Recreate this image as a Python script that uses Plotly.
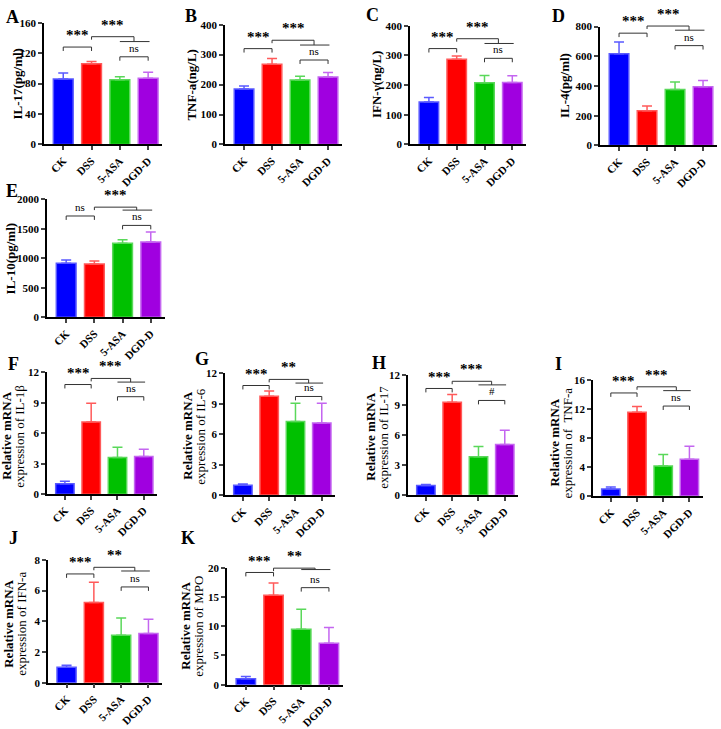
import plotly.graph_objects as go

W, H = 721, 729
groups = ["CK", "DSS", "5-ASA", "DGD-D"]

# ---- data (mean, upper error) ----
il17_mean = [86, 106, 85, 87]
il17_err = [8, 3, 4, 8]
tnf_mean = [185, 268, 215, 225]
tnf_err = [10, 19, 13, 15]
ifng_mean = [143, 287, 208, 209]
ifng_err = [15, 11, 24, 22]
il4_mean = [617, 234, 376, 396]
il4_err = [79, 31, 51, 42]
il10_mean = [917, 905, 1258, 1280]
il10_err = [55, 50, 60, 170]
m_il1b_mean = [1.02, 7.1, 3.6, 3.7]
m_il1b_err = [0.26, 1.85, 1.02, 0.73]
m_il6_mean = [0.98, 9.75, 7.25, 7.1]
m_il6_err = [0.12, 0.5, 1.8, 1.95]
m_il17_mean = [0.97, 9.3, 3.85, 5.08]
m_il17_err = [0.1, 0.77, 1.02, 1.42]
m_tnf_mean = [0.97, 11.57, 4.15, 5.08]
m_tnf_err = [0.28, 0.8, 1.6, 1.8]
m_ifna_mean = [1.0, 5.23, 3.1, 3.21]
m_ifna_err = [0.13, 1.32, 1.11, 0.92]
m_mpo_mean = [1.0, 15.3, 9.5, 7.1]
m_mpo_err = [0.4, 2.1, 3.4, 2.7]

bar_colors = ["#0000FF", "#FF0000", "#00C000", "#A000E0"]
edge_colors = ["#5A5AFF", "#FF5A5A", "#5AD85A", "#C466F0"]

panels = [
    dict(L="A", title=["IL-17(pg/ml)"], mean=il17_mean, err=il17_err, ymax=160, dtick=40,
         ax=44, s=28.3, zero=141, top=17, toff=26, tdy=0, let=(12, 11), sig=("***", "***", "ns"), lv=(0.80, 0.885, 0.845, 0.72)),
    dict(L="B", title=["TNF-a(ng/L)"], mean=tnf_mean, err=tnf_err, ymax=400, dtick=100,
         ax=225, s=28.0, zero=141, top=19, toff=33, tdy=0, let=(191, 10), sig=("***", "***", "ns"), lv=(0.80, 0.87, 0.83, 0.705)),
    dict(L="C", title=["IFN-γ(ng/L)"], mean=ifng_mean, err=ifng_err, ymax=400, dtick=100,
         ax=410, s=27.8, zero=141, top=20, toff=34, tdy=0, let=(372, 9), sig=("***", "***", "ns"), lv=(0.807, 0.89, 0.85, 0.725)),
    dict(L="D", title=["IL-4(pg/ml)"], mean=il4_mean, err=il4_err, ymax=800, dtick=200,
         ax=600, s=28.0, zero=142, top=21, toff=36, tdy=0, let=(558, 10), sig=("***", "***", "ns"), lv=(0.945, 1.005, 0.97, 0.84)),
    dict(L="E", title=["IL-10(pg/ml)"], mean=il10_mean, err=il10_err, ymax=2000, dtick=500,
         ax=47, s=28.2, zero=317, top=197, toff=37, tdy=0, let=(12, 188), sig=("ns", "***", "ns"), lv=(0.86, 0.935, 0.91, 0.78)),
    dict(L="F", title=["Relative mRNA", "expression of IL-1β"], mean=m_il1b_mean, err=m_il1b_err, ymax=12, dtick=3,
         ax=47, s=26.3, zero=497, top=373, toff=34, tdy=3, let=(13, 365), sig=("***", "***", "ns"), lv=(0.90, 0.95, 0.92, 0.80)),
    dict(L="G", title=["Relative mRNA", "expression of IL-6"], mean=m_il6_mean, err=m_il6_err, ymax=12, dtick=3,
         ax=225, s=26.3, zero=498, top=374, toff=31, tdy=2, let=(202, 359), sig=("***", "**", "ns"), lv=(0.90, 0.95, 0.92, 0.81)),
    dict(L="H", title=["Relative mRNA", "expression of IL-17"], mean=m_il17_mean, err=m_il17_err, ymax=12, dtick=3,
         ax=408, s=26.3, zero=498, top=376, toff=31, tdy=2, let=(379, 363), sig=("***", "***", "#"), lv=(0.89, 0.95, 0.92, 0.79)),
    dict(L="I", title=["Relative mRNA", "expression of  TNF-a"], mean=m_tnf_mean, err=m_tnf_err, ymax=16, dtick=4,
         ax=593, s=26.2, zero=499, top=381, toff=32, tdy=5, let=(558, 364), sig=("***", "***", "ns"), lv=(0.89, 0.943, 0.91, 0.777)),
    dict(L="J", title=["Relative mRNA", "expression of IFN-a"], mean=m_ifna_mean, err=m_ifna_err, ymax=8, dtick=2,
         ax=48, s=27.3, zero=689, top=564, toff=33, tdy=3, let=(13, 542), sig=("***", "**", "ns"), lv=(0.886, 0.94, 0.91, 0.78)),
    dict(L="K", title=["Relative mRNA", "expression of MPO"], mean=m_mpo_mean, err=m_mpo_err, ymax=20, dtick=5,
         ax=227, s=27.7, zero=691, top=572, toff=35, tdy=0, let=(188, 542), sig=("***", "**", "ns"), lv=(0.96, 0.997, 0.985, 0.83)),
]

XLO, XHI = -0.68, 3.5
FONT = "Liberation Serif, Times New Roman, serif"

fig = go.Figure()
shapes = []
annotations = []
layout = {}


def pxx(p, c):
    return (p["ax"] + (c - XLO) * p["s"]) / W


def pyy(p, f, dpx=0.0):
    return 1 - (p["zero"] - f * (p["zero"] - p["top"]) - dpx) / H


def line(x0, y0, x1, y1, color="#333333"):
    shapes.append(dict(type="line", xref="paper", yref="paper", x0=x0, y0=y0, x1=x1, y1=y1,
                       line=dict(color=color, width=1)))


TK = 4  # bracket tick length in px

for i, p in enumerate(panels):
    n = "" if i == 0 else str(i + 1)
    xa, ya = "x" + n, "y" + n
    fig.add_trace(go.Bar(
        x=groups, y=p["mean"], xaxis=xa, yaxis=ya, width=0.7,
        marker=dict(color=bar_colors, line=dict(color=edge_colors, width=1.5)),
        showlegend=False,
    ))
    for j in range(4):
        fig.add_trace(go.Scatter(
            x=[groups[j]], y=[p["mean"][j]], xaxis=xa, yaxis=ya, mode="markers",
            marker=dict(size=0.1, color="rgba(0,0,0,0)"),
            error_y=dict(type="data", symmetric=False, array=[p["err"][j]], arrayminus=[0],
                         color=edge_colors[j], thickness=1.5, width=5),
            showlegend=False, hoverinfo="skip",
        ))
    x0 = p["ax"] / W
    x1 = (p["ax"] + (XHI - XLO) * p["s"]) / W
    layout["xaxis" + n] = dict(
        domain=[x0, x1], anchor=ya, range=[XLO, XHI], type="category",
        showline=True, linecolor="black", linewidth=1.5, ticks="outside", ticklen=4, tickwidth=1.5,
        tickangle=-45, tickfont=dict(family=FONT, size=11, color="black", weight="bold"),
        showgrid=False, zeroline=False, fixedrange=True,
    )
    layout["yaxis" + n] = dict(
        domain=[1 - p["zero"] / H, 1 - p["top"] / H], anchor=xa, range=[0, p["ymax"]],
        dtick=p["dtick"], tick0=0,
        showline=True, linecolor="black", linewidth=1.5, ticks="outside", ticklen=4, tickwidth=1.5,
        tickfont=dict(family=FONT, size=11, color="black", weight="bold"),
        showgrid=False, zeroline=False, fixedrange=True,
    )
    # y title (one or two lines)
    nl = len(p["title"])
    for k, t in enumerate(p["title"]):
        dx = 0 if nl == 1 else (-6.5 if k == 0 else 6.5)
        annotations.append(dict(
            xref="paper", yref="paper", x=(p["ax"] - p["toff"] + dx) / W, y=pyy(p, 0.5, -p["tdy"]),
            text=("<b>" + t + "</b>") if k == 0 else t, textangle=-90, showarrow=False,
            xanchor="center", yanchor="middle",
            font=dict(family=FONT, size=13, color="black"),
        ))
    # panel letter
    annotations.append(dict(
        xref="paper", yref="paper", x=p["let"][0] / W, y=1 - p["let"][1] / H,
        text="<b>" + p["L"] + "</b>", showarrow=False, xanchor="center", yanchor="middle",
        font=dict(family=FONT, size=18, color="black"),
    ))
    b1, b2, bg, b3 = p["lv"]
    # bracket 1: CK vs DSS
    line(pxx(p, 0), pyy(p, b1), pxx(p, 1), pyy(p, b1))
    line(pxx(p, 0), pyy(p, b1), pxx(p, 0), pyy(p, b1, -TK))
    line(pxx(p, 1), pyy(p, b1), pxx(p, 1), pyy(p, b1, -TK))
    # bracket 2: DSS vs treatment group
    line(pxx(p, 1), pyy(p, b2), pxx(p, 2.5), pyy(p, b2))
    line(pxx(p, 1), pyy(p, b2), pxx(p, 1), pyy(p, b2, -TK + 1))
    line(pxx(p, 2.5), pyy(p, b2), pxx(p, 2.5), pyy(p, bg))
    line(pxx(p, 2.0), pyy(p, bg), pxx(p, 3.05), pyy(p, bg))
    # bracket 3: 5-ASA vs DGD-D
    line(pxx(p, 2), pyy(p, b3), pxx(p, 3), pyy(p, b3))
    line(pxx(p, 2), pyy(p, b3), pxx(p, 2), pyy(p, b3, -TK))
    line(pxx(p, 3), pyy(p, b3), pxx(p, 3), pyy(p, b3, -TK))

    def sig_text(txt, xc, f):
        star = "*" in txt
        annotations.append(dict(
            xref="paper", yref="paper", x=pxx(p, xc), y=pyy(p, f, 2 if star else 1),
            text=("<b>" + txt + "</b>") if star else txt, showarrow=False,
            xanchor="center", yanchor="bottom",
            font=dict(family=FONT, size=15 if star else 11, color="black"),
        ))

    sig_text(p["sig"][0], 0.5, b1)
    sig_text(p["sig"][1], 1.75, b2)
    sig_text(p["sig"][2], 2.5, b3)

fig.update_layout(
    width=W, height=H, margin=dict(l=0, r=0, t=0, b=0),
    paper_bgcolor="white", plot_bgcolor="white",
    shapes=shapes, annotations=annotations, bargap=0.3,
    **layout,
)
fig.write_html("out.html")
